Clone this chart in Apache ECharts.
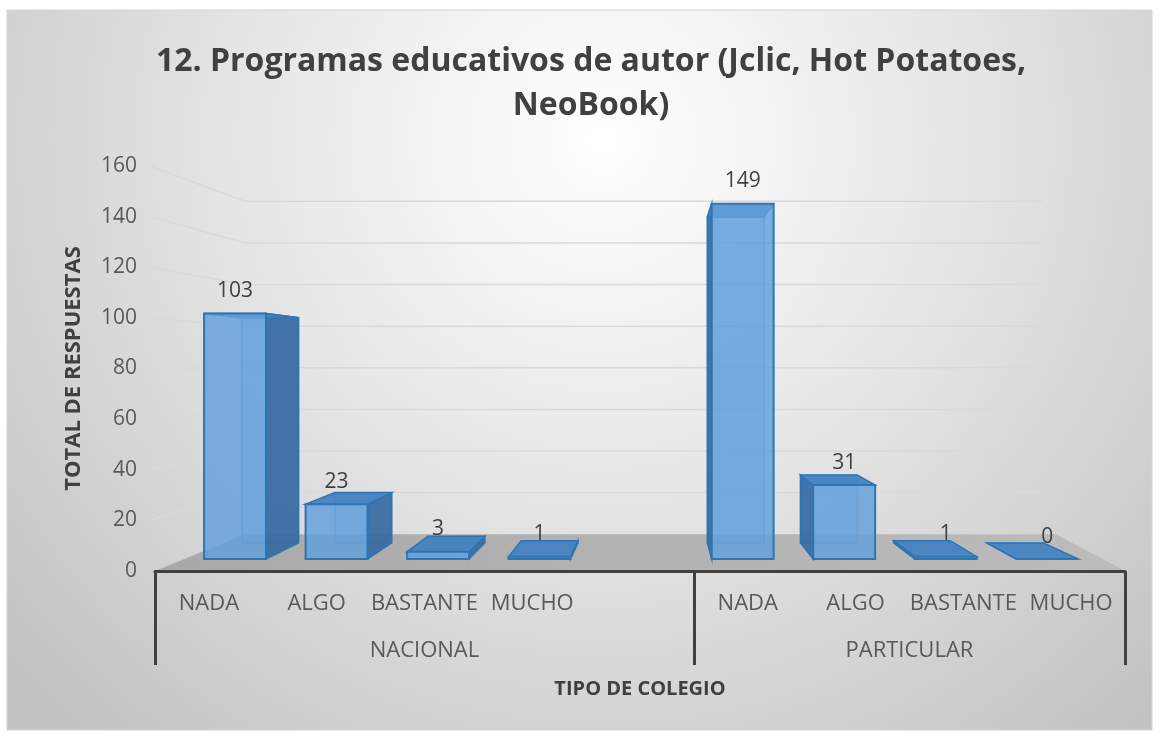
<!DOCTYPE html>
<html>
<head>
<meta charset="utf-8">
<title>12. Programas educativos de autor</title>
<style>
  html, body { margin: 0; padding: 0; background: #ffffff; }
  #chart { width: 1161px; height: 737px; }
</style>
</head>
<body>
<div id="chart"></div>
<script src="https://cdn.jsdelivr.net/npm/echarts@6/dist/echarts.min.js"></script>
<script>
    // datos
    var niveles = ['NADA', 'ALGO', 'BASTANTE', 'MUCHO'];
    var grupos = ['NACIONAL', 'PARTICULAR'];
    var nacional = [103, 23, 3, 1];
    var particular = [149, 31, 1, 0];
    var yMin = 0, yMax = 160, yStep = 20;

    // eje de categorias: nacional + hueco + particular
    var categorias = niveles.concat(['']).concat(niveles);
    var limites = [0, niveles.length + 1, categorias.length];
    var centros = [limites[0] + (limites[1] - limites[0]) / 2, limites[1] + (limites[2] - limites[1]) / 2];

    var barras = [];
    nacional.forEach(function (v, i) { barras.push([i, v]); });
    particular.forEach(function (v, i) { barras.push([limites[1] + i, v]); });

    var marcas = [];
    for (var t = yMin + yStep; t <= yMax; t += yStep) marcas.push([0, t]);

    // falso 3D
    var D_FRENTE = 0.058, D_FONDO = 0.136, D_PARED = 0.178;
    function fuga(cs) { return [cs.x + cs.width * 0.52, cs.y + cs.height * 0.49]; }
    function proy(p, d, vp) { return [p[0] + d * (vp[0] - p[0]), p[1] + d * (vp[1] - p[1])]; }

    var fuente = '"Open Sans", sans-serif';

    var myChart = echarts.init(document.getElementById('chart'));
    var option = {
        animation: false,
        graphic: [
            {
                type: 'rect', z: -10, silent: true,
                shape: { x: 7, y: 10, width: 1145, height: 720 },
                style: {
                    fill: new echarts.graphic.RadialGradient(0.52, 0.18, 1.1, [
                        { offset: 0, color: '#ffffff' },
                        { offset: 0.45, color: '#e6e6e6' },
                        { offset: 1, color: '#c2c2c2' }
                    ]),
                    stroke: '#d4d4d4', lineWidth: 1
                }
            },
            {
                type: 'text', z: 5, silent: true,
                style: {
                    x: 591, y: 40,
                    text: '12. Programas educativos de autor (Jclic, Hot Potatoes,\nNeoBook)',
                    font: 'bold 32px ' + fuente,
                    lineHeight: 44,
                    textAlign: 'center',
                    fill: '#404040'
                }
            }
        ],
        grid: { left: 155, right: 36, top: 166, bottom: 166 },
        xAxis: [
            {
                type: 'category',
                data: categorias,
                z: 10,
                axisLine: { show: true, lineStyle: { color: '#404040', width: 3 } },
                axisTick: { show: false },
                axisLabel: { color: '#595959', fontSize: 22, fontFamily: 'Open Sans', margin: 22, interval: 0 },
                splitLine: { show: false }
            },
            {
                type: 'value',
                min: 0, max: categorias.length,
                position: 'bottom',
                z: 10,
                axisLine: { show: false },
                axisTick: {
                    show: true, length: 94, customValues: limites,
                    lineStyle: { color: '#404040', width: 3 }
                },
                axisLabel: {
                    show: true, customValues: centros, margin: 69,
                    color: '#595959', fontSize: 22, fontFamily: 'Open Sans',
                    formatter: function (v) { return grupos[centros.indexOf(v)] || ''; }
                },
                splitLine: { show: false },
                name: 'TIPO DE COLEGIO',
                nameLocation: 'middle',
                nameGap: 108,
                nameTextStyle: { color: '#404040', fontSize: 20, fontWeight: 'bold', fontFamily: 'Open Sans' }
            }
        ],
        yAxis: {
            type: 'value',
            min: yMin, max: yMax, interval: yStep,
            axisLine: { show: false },
            axisTick: { show: false },
            splitLine: { show: false },
            axisLabel: { color: '#595959', fontSize: 21, fontFamily: 'Open Sans', margin: 18 },
            name: 'TOTAL DE RESPUESTAS',
            nameLocation: 'middle',
            nameRotate: 90,
            nameGap: 70,
            nameTextStyle: { color: '#404040', fontSize: 22, fontWeight: 'bold', fontFamily: 'Open Sans' }
        },
        series: [
            {
                // lineas de la pared del fondo
                type: 'custom', name: 'pared', z: 1, silent: true,
                data: marcas,
                renderItem: function (params, api) {
                    var cs = params.coordSys, vp = fuga(cs);
                    var y = api.coord([0, api.value(1)])[1];
                    var a = [cs.x - 5, y];
                    var b = proy([cs.x, y], D_PARED, vp);
                    var c = proy([cs.x + cs.width, y], D_PARED, vp);
                    return {
                        type: 'polyline', silent: true,
                        shape: { points: [a, b, c] },
                        style: { stroke: '#d9d9d9', lineWidth: 1.5, fill: null }
                    };
                }
            },
            {
                // piso
                type: 'custom', name: 'piso', z: 2, silent: true,
                data: [[0, 0]],
                renderItem: function (params, api) {
                    var cs = params.coordSys, vp = fuga(cs);
                    var y0 = api.coord([0, 0])[1];
                    var fl = [cs.x, y0], fr = [cs.x + cs.width, y0];
                    var br = proy(fr, D_PARED, vp);
                    br[0] += 14;
                    return {
                        type: 'polygon', silent: true,
                        shape: { points: [fl, fr, br, proy(fl, D_PARED, vp)] },
                        style: {
                            fill: new echarts.graphic.LinearGradient(0, 0, 1, 0, [
                                { offset: 0, color: '#a9a9a9' },
                                { offset: 1, color: '#bcbcbc' }
                            ])
                        }
                    };
                }
            },
            {
                // barras
                type: 'custom', name: 'respuestas', z: 3,
                data: barras,
                renderItem: function (params, api) {
                    var cs = params.coordSys, vp = fuga(cs);
                    var i = api.value(0), v = api.value(1);
                    var top = api.coord([i, v]), base = api.coord([i, 0]);
                    var hw = api.size([1, 0])[0] * 0.305;
                    var TL = [top[0] - hw, top[1]], TR = [top[0] + hw, top[1]];
                    var BL = [top[0] - hw, base[1]], BR = [top[0] + hw, base[1]];
                    var f = function (p) { return proy(p, D_FRENTE, vp); };
                    var b = function (p) { return proy(p, D_FONDO, vp); };
                    var borde = '#2e75b6';
                    var lado = top[0] < vp[0]
                        ? [f(TR), b(TR), b(BR), f(BR)]
                        : [f(TL), b(TL), b(BL), f(BL)];
                    var fTop = f(TL);
                    return {
                        type: 'group',
                        children: [
                            {
                                type: 'polygon',
                                shape: { points: [b(TL), b(TR), b(BR), b(BL)] },
                                style: { fill: 'rgba(91,155,213,0.25)', stroke: 'rgba(46,117,182,0.55)', lineWidth: 1.2 }
                            },
                            {
                                type: 'polygon',
                                shape: { points: lado },
                                style: { fill: 'rgba(52,104,160,0.9)', stroke: borde, lineWidth: 1.5 }
                            },
                            {
                                type: 'polygon',
                                shape: { points: [f(TL), f(TR), b(TR), b(TL)] },
                                style: { fill: 'rgba(70,130,192,0.95)', stroke: borde, lineWidth: 1.5 }
                            },
                            {
                                type: 'polygon',
                                shape: { points: [f(TL), f(TR), f(BR), f(BL)] },
                                style: { fill: 'rgba(98,160,220,0.82)', stroke: borde, lineWidth: 2 }
                            },
                            {
                                type: 'text',
                                style: {
                                    x: (f(TL)[0] + f(TR)[0]) / 2, y: fTop[1] - 12,
                                    text: String(v),
                                    textAlign: 'center', textVerticalAlign: 'bottom',
                                    font: '21px ' + fuente, fill: '#404040'
                                }
                            }
                        ]
                    };
                }
            }
        ]
    };

    myChart.setOption(option);
    window.onresize = function () {
        myChart.resize();
    };
</script>
</body>
</html>
